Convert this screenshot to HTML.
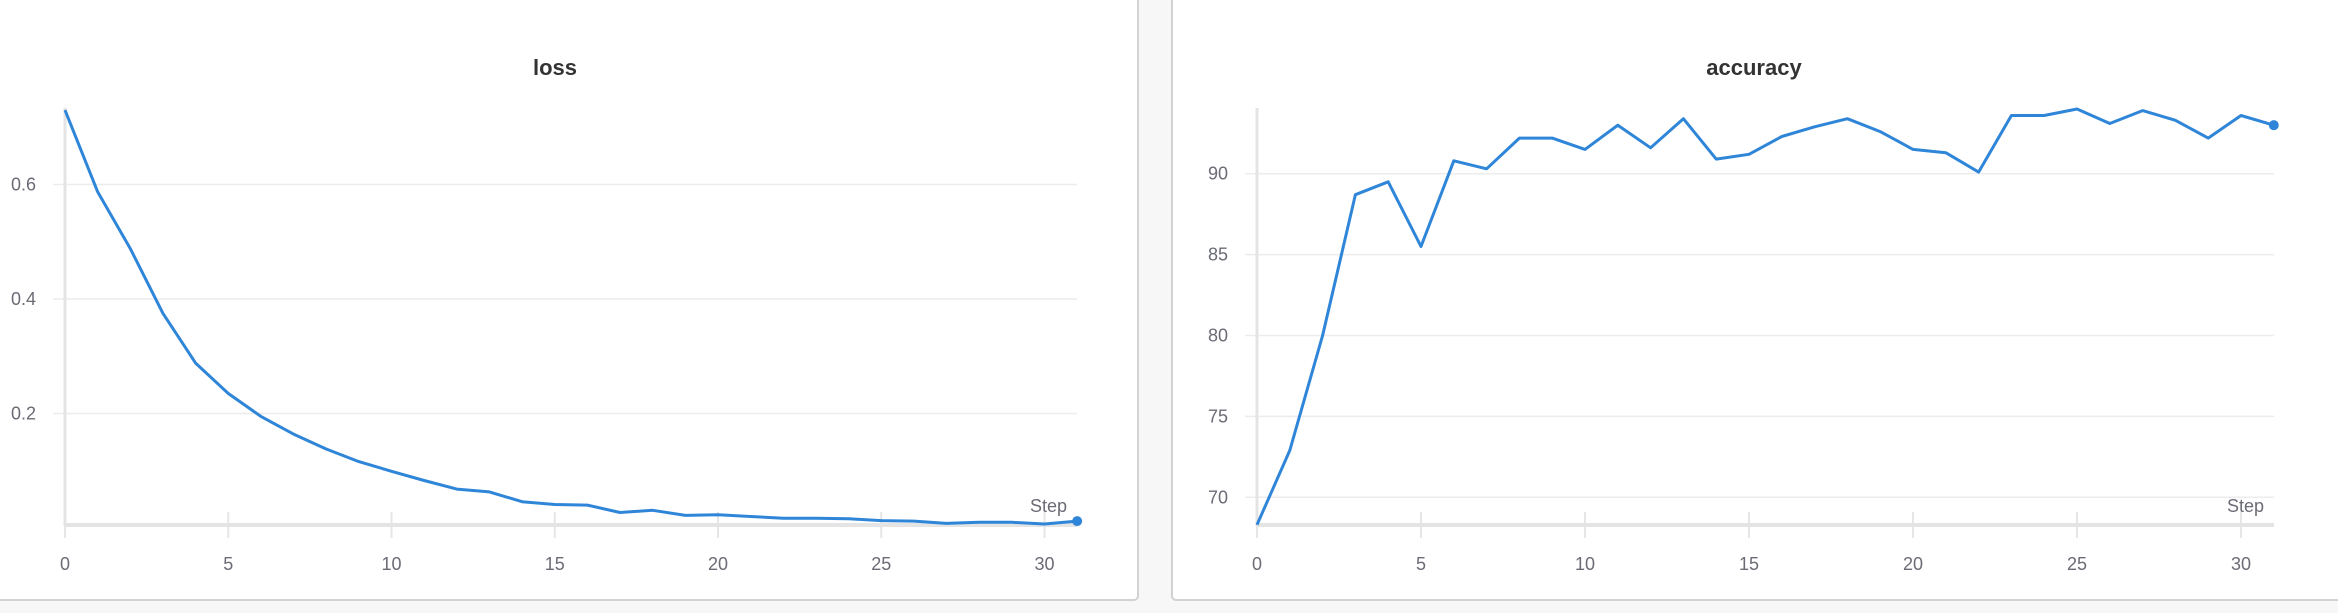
<!DOCTYPE html>
<html><head><meta charset="utf-8"><style>
html,body{margin:0;padding:0;background:#f7f7f7;width:2338px;height:613px;overflow:hidden;font-family:"Liberation Sans","DejaVu Sans",sans-serif}
.panel{position:absolute;top:-10px;background:#fff;border:2px solid #d2d2d2;border-radius:5px;box-sizing:border-box}
svg{position:absolute;left:0;top:0}
</style></head><body>
<div class="panel" style="left:-10px;width:1149px;height:611px"></div>
<div class="panel" style="left:1171px;width:1180px;height:611px"></div>
<svg id="chart" width="2338" height="613"></svg>
<script>
const steps = Array.from({length:32},(_,i)=>i);
const lossValues = [0.730,0.587,0.488,0.375,0.288,0.235,0.195,0.164,0.138,0.116,0.099,0.083,0.068,0.063,0.046,0.041,0.040,0.027,0.031,0.022,0.023,0.020,0.017,0.017,0.016,0.013,0.012,0.008,0.010,0.010,0.007,0.012];
const accValues = [68.3,72.9,80.0,88.7,89.5,85.5,90.8,90.3,92.2,92.2,91.5,93.0,91.6,93.4,90.9,91.2,92.3,92.9,93.4,92.6,91.5,91.3,90.1,93.6,93.6,94.0,93.1,93.9,93.3,92.2,93.6,93.0];
const xTicks = [0,5,10,15,20,25,30];
const lossTicks = [0.2,0.4,0.6];
const lossTickLabels = ["0.2","0.4","0.6"];
const accTicks = [70,75,80,85,90];
const accTickLabels = ["70","75","80","85","90"];

const NS="http://www.w3.org/2000/svg";
const svg=document.getElementById('chart');
function mk(tag,attrs,parent){const e=document.createElementNS(NS,tag);for(const k in attrs)e.setAttribute(k,attrs[k]);(parent||svg).appendChild(e);return e;}

function drawChart(cfg){
  const g=mk('g',{});
  
  
  const xs=s=>cfg.x0+s*cfg.dx;
  const ys=v=>cfg.yRef+(cfg.vRef-v)*cfg.py;
  const t=mk('text',{x:cfg.titleX,y:75,'text-anchor':'middle','font-size':22,'font-weight':'bold',fill:'#333'},g);
  t.textContent=cfg.name;
  
  
  cfg.yTicks.forEach((v,i)=>{
    const y=ys(v);
    const gl=mk('line',{x1:cfg.x0-12,x2:cfg.xEnd,y1:y,y2:y,stroke:'#ececec','stroke-width':1.5},g);
    
    
    const lb=mk('text',{x:cfg.labelX,y:y+6,'text-anchor':'end','font-size':18,fill:'#6b6b76'},g);
    lb.textContent=cfg.yLabels[i];
    
    
  });
  xTicks.forEach(s=>{
    const x=xs(s);
    const tk=mk('line',{x1:x,x2:x,y1:512,y2:538,stroke:'#e6e6e6','stroke-width':2},g);
    
    
    const lb=mk('text',{x:x,y:570,'text-anchor':'middle','font-size':18,fill:'#6b6b76'},g);
    lb.textContent=String(s);
    
    
  });
  const ya=mk('line',{x1:cfg.x0,x2:cfg.x0,y1:108,y2:526,stroke:'#e4e4e4','stroke-width':3},g);
  
  
  const xa=mk('line',{x1:cfg.x0,x2:cfg.xEnd,y1:525,y2:525,stroke:'#e4e4e4','stroke-width':4},g);
  
  
  const st=mk('text',{x:cfg.xEnd-10,y:512,'text-anchor':'end','font-size':18,fill:'#6b6b76'},g);
  st.textContent='Step';
  
  
  const d=cfg.values.map((v,i)=>(i?'L':'M')+xs(steps[i]).toFixed(1)+' '+ys(v).toFixed(1)).join(' ');
  const p=mk('path',{d:d,fill:'none',stroke:'#2f86d8','stroke-width':3,'stroke-linejoin':'round'},g);
  
  
  const last=cfg.values.length-1;
  const c=mk('circle',{cx:xs(steps[last]),cy:ys(cfg.values[last]),r:5,fill:'#2f86d8'},g);
  
  
}
drawChart({name:'loss',values:lossValues,yTicks:lossTicks,yLabels:lossTickLabels,x0:65,dx:32.65,xEnd:1077,yRef:528,vRef:0,py:572.5,labelX:36,titleX:555});
drawChart({name:'accuracy',values:accValues,yTicks:accTicks,yLabels:accTickLabels,x0:1257,dx:32.8,xEnd:2274,yRef:497.3,vRef:70,py:16.18,labelX:1228,titleX:1754});
</script>
</body></html>
